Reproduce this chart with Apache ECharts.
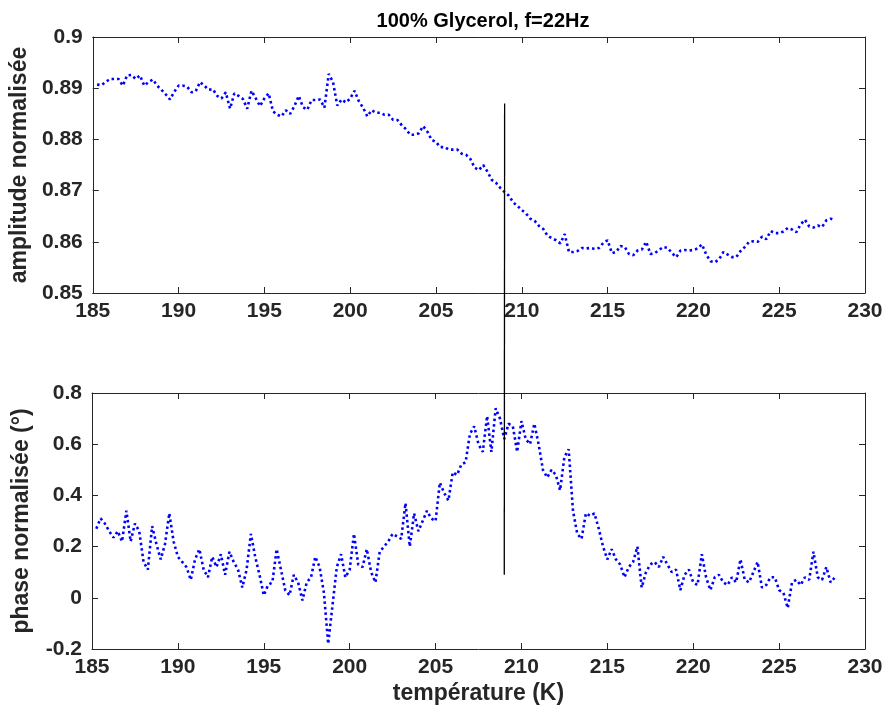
<!DOCTYPE html>
<html>
<head>
<meta charset="utf-8">
<script src="https://cdn.jsdelivr.net/npm/echarts@6/dist/echarts.min.js"></script>
<style>
  html, body { margin: 0; padding: 0; background: #fff; }
  #chart { width: 886px; height: 717px; }
</style>
</head>
<body>
<div id="chart"></div>
<script>
// temperatures (K), one row per integer kelvin
var temps = [
  185.25, 185.5, 185.75,
  186, 186.25, 186.5, 186.75, 187, 187.25, 187.5, 187.75, 188, 188.25, 188.5, 188.75,
  189, 189.25, 189.5, 189.75, 190, 190.25, 190.5, 190.75, 191, 191.25, 191.5, 191.75,
  192, 192.25, 192.5, 192.75, 193, 193.25, 193.5, 193.75, 194, 194.25, 194.5, 194.75,
  195, 195.25, 195.5, 195.75, 196, 196.25, 196.5, 196.75, 197, 197.25, 197.5, 197.75,
  198, 198.25, 198.5, 198.75, 199, 199.25, 199.5, 199.75, 200, 200.25, 200.5, 200.75,
  201, 201.25, 201.5, 201.75, 202, 202.25, 202.5, 202.75, 203, 203.25, 203.5, 203.75,
  204, 204.25, 204.5, 204.75, 205, 205.25, 205.5, 205.75, 206, 206.25, 206.5, 206.75,
  207, 207.25, 207.5, 207.75, 208, 208.25, 208.5, 208.75, 209, 209.25, 209.5, 209.75,
  210, 210.25, 210.5, 210.75, 211, 211.25, 211.5, 211.75, 212, 212.25, 212.5, 212.75,
  213, 213.25, 213.5, 213.75, 214, 214.25, 214.5, 214.75, 215, 215.25, 215.5, 215.75,
  216, 216.25, 216.5, 216.75, 217, 217.25, 217.5, 217.75, 218, 218.25, 218.5, 218.75,
  219, 219.25, 219.5, 219.75, 220, 220.25, 220.5, 220.75, 221, 221.25, 221.5, 221.75,
  222, 222.25, 222.5, 222.75, 223, 223.25, 223.5, 223.75, 224, 224.25, 224.5, 224.75,
  225, 225.25, 225.5, 225.75, 226, 226.25, 226.5, 226.75, 227, 227.25, 227.5, 227.75,
  228, 228.25
];

var amplitude = [
  0.8907, 0.8906, 0.8912,
  0.8918, 0.8918, 0.8918, 0.8905, 0.8925, 0.8926, 0.8918, 0.8925, 0.8905, 0.8912, 0.8917, 0.8905,
  0.8897, 0.8888, 0.8878, 0.8893, 0.8905, 0.8905, 0.8903, 0.8892, 0.8894, 0.8912, 0.8905, 0.8897,
  0.8898, 0.8885, 0.8880, 0.8892, 0.8860, 0.8890, 0.8885, 0.8879, 0.8860, 0.8895, 0.8880, 0.8865,
  0.8880, 0.8890, 0.8855, 0.8848, 0.8845, 0.8857, 0.8850, 0.8865, 0.8885, 0.8863, 0.8858, 0.8877,
  0.8877, 0.8878, 0.8862, 0.8928, 0.8912, 0.8866, 0.8878, 0.8872, 0.8880, 0.8895, 0.8875, 0.8862,
  0.8845, 0.8857, 0.8852, 0.8852, 0.8848, 0.8848, 0.8838, 0.8838, 0.8828, 0.8820, 0.8809, 0.8809,
  0.8812, 0.8826, 0.8815, 0.8799, 0.8795, 0.8785, 0.8785, 0.8780, 0.8780, 0.8780, 0.8772, 0.8770,
  0.8762, 0.8745, 0.8740, 0.8750, 0.8737, 0.8721, 0.8715, 0.8705, 0.8697, 0.8690, 0.8677, 0.8670,
  0.8662, 0.8655, 0.8645, 0.8641, 0.8631, 0.8625, 0.8612, 0.8607, 0.8603, 0.8597, 0.8615, 0.8580,
  0.8580, 0.8582, 0.8588, 0.8587, 0.8588, 0.8586, 0.8588, 0.8598, 0.8603, 0.8578, 0.8580, 0.8592,
  0.8590, 0.8576, 0.8574, 0.8583, 0.8585, 0.8600, 0.8576, 0.8578, 0.8584, 0.8590, 0.8588, 0.8578,
  0.8570, 0.8583, 0.8584, 0.8583, 0.8584, 0.8587, 0.8595, 0.8575, 0.8562, 0.8560, 0.8566, 0.8580,
  0.8575, 0.8570, 0.8570, 0.8582, 0.8590, 0.8600, 0.8601, 0.8600, 0.8610, 0.8605, 0.8621, 0.8617,
  0.8617, 0.8620, 0.8627, 0.8624, 0.8619, 0.8634, 0.8643, 0.8630, 0.8628, 0.8632, 0.8629, 0.8642,
  0.8645, 0.8642
];

var phase = [
  0.27, 0.31, 0.29,
  0.26, 0.235, 0.26, 0.22, 0.34, 0.22, 0.29, 0.26, 0.14, 0.11, 0.28, 0.21,
  0.15, 0.21, 0.33, 0.22, 0.16, 0.14, 0.12, 0.07, 0.15, 0.19, 0.11, 0.08,
  0.16, 0.12, 0.17, 0.09, 0.18, 0.14, 0.11, 0.04, 0.11, 0.25, 0.16, 0.09,
  0.01, 0.05, 0.06, 0.19, 0.11, 0.03, 0.01, 0.09, 0.06, -0.01, 0.06, 0.08,
  0.16, 0.12, 0.02, -0.18, -0.03, 0.12, 0.17, 0.08, 0.11, 0.25, 0.13, 0.12,
  0.19, 0.10, 0.06, 0.18, 0.20, 0.22, 0.25, 0.24, 0.23, 0.37, 0.20, 0.33,
  0.26, 0.30, 0.34, 0.31, 0.30, 0.45, 0.41, 0.38, 0.49, 0.48, 0.52, 0.53,
  0.64, 0.67, 0.60, 0.57, 0.71, 0.57, 0.74, 0.70, 0.62, 0.68, 0.67, 0.57,
  0.69, 0.62, 0.60, 0.68, 0.60, 0.50, 0.47, 0.50, 0.48, 0.42, 0.55, 0.58,
  0.34, 0.25, 0.23, 0.33, 0.32, 0.33, 0.27, 0.20, 0.15, 0.19, 0.15, 0.13,
  0.08, 0.12, 0.14, 0.20, 0.04, 0.10, 0.13, 0.14, 0.12, 0.16, 0.13, 0.10,
  0.11, 0.03, 0.09, 0.11, 0.06, 0.05, 0.17, 0.08, 0.03, 0.08, 0.09, 0.06,
  0.05, 0.08, 0.06, 0.15, 0.07, 0.06, 0.10, 0.14, 0.04, 0.05, 0.08, 0.08,
  0.03, 0.02, -0.04, 0.06, 0.07, 0.05, 0.08, 0.07, 0.18, 0.08, 0.07, 0.12,
  0.06, 0.08
];

// black marker line: from (209 K, amplitude 0.887) down to (209 K, phase 0.09)
var markerT = 209;
var markerAmp = 0.887;
var markerPhase = 0.09;

var axisColor = '#262626';
var font = 'Liberation Sans';

function xAxisFor(grid, pos, labels) {
  return {
    type: 'value', gridIndex: grid, position: pos,
    min: 185, max: 230, interval: 5,
    axisLine: { show: true, onZero: false, lineStyle: { color: axisColor, width: 1 } },
    axisTick: { show: true, inside: true, length: 6, lineStyle: { color: axisColor } },
    axisLabel: { show: labels, color: axisColor, fontFamily: font, fontWeight: 'bold', fontSize: 21, margin: 8 },
    splitLine: { show: false }
  };
}

function yAxisFor(grid, pos, labels, min, max, step) {
  return {
    type: 'value', gridIndex: grid, position: pos,
    min: min, max: max, interval: step,
    axisLine: { show: true, onZero: false, lineStyle: { color: axisColor, width: 1 } },
    axisTick: { show: true, inside: true, length: 6, lineStyle: { color: axisColor } },
    axisLabel: { show: labels, color: axisColor, fontFamily: font, fontWeight: 'bold', fontSize: 21, margin: 10 },
    splitLine: { show: false }
  };
}

var chart = echarts.init(document.getElementById('chart'));

var xs = [
  xAxisFor(0, 'bottom', true), xAxisFor(0, 'top', false),
  xAxisFor(1, 'bottom', true), xAxisFor(1, 'top', false)
];
xs[2].name = 'température (K)';
xs[2].nameLocation = 'middle';
xs[2].nameGap = 33;
xs[2].nameTextStyle = { color: axisColor, fontFamily: font, fontWeight: 'bold', fontSize: 23 };

var ys = [
  yAxisFor(0, 'left', true, 0.85, 0.9, 0.01), yAxisFor(0, 'right', false, 0.85, 0.9, 0.01),
  yAxisFor(1, 'left', true, -0.2, 0.8, 0.2), yAxisFor(1, 'right', false, -0.2, 0.8, 0.2)
];
ys[0].name = 'amplitude normalisée';
ys[2].name = 'phase normalisée (°)';
[ys[0], ys[2]].forEach(function (a) {
  a.nameLocation = 'middle';
  a.nameGap = 59;
  a.nameTextStyle = { color: axisColor, fontFamily: font, fontWeight: 'bold', fontSize: 23 };
});

var option = {
  animation: false,
  backgroundColor: '#ffffff',
  title: {
    text: '100% Glycerol, f=22Hz',
    left: 478, top: 6, textAlign: 'center',
    textStyle: { color: '#000000', fontFamily: font, fontWeight: 'bold', fontSize: 20 }
  },
  grid: [
    { left: 92, right: 21, top: 37, height: 256 },
    { left: 92, right: 21, top: 393, height: 256 }
  ],
  xAxis: xs,
  yAxis: ys,
  series: [
    {
      type: 'line', xAxisIndex: 0, yAxisIndex: 0,
      data: temps.map(function (t, i) { return [t, amplitude[i]]; }),
      symbol: 'none', clip: true,
      lineStyle: { color: '#0000ff', width: 2.6, type: [2.5, 3] }
    },
    {
      type: 'line', xAxisIndex: 2, yAxisIndex: 2,
      data: temps.map(function (t, i) { return [t, phase[i]]; }),
      symbol: 'none', clip: true,
      lineStyle: { color: '#0000ff', width: 2.6, type: [2.5, 3] }
    }
  ]
};

chart.setOption(option);

var p1 = chart.convertToPixel({ xAxisIndex: 0, yAxisIndex: 0 }, [markerT, markerAmp]);
var p2 = chart.convertToPixel({ xAxisIndex: 2, yAxisIndex: 2 }, [markerT, markerPhase]);
chart.setOption({
  graphic: [{
    type: 'line', z: 100,
    shape: { x1: p1[0], y1: p1[1], x2: p2[0], y2: p2[1] },
    style: { stroke: '#000000', lineWidth: 1.3 }
  }]
});
</script>
</body>
</html>
